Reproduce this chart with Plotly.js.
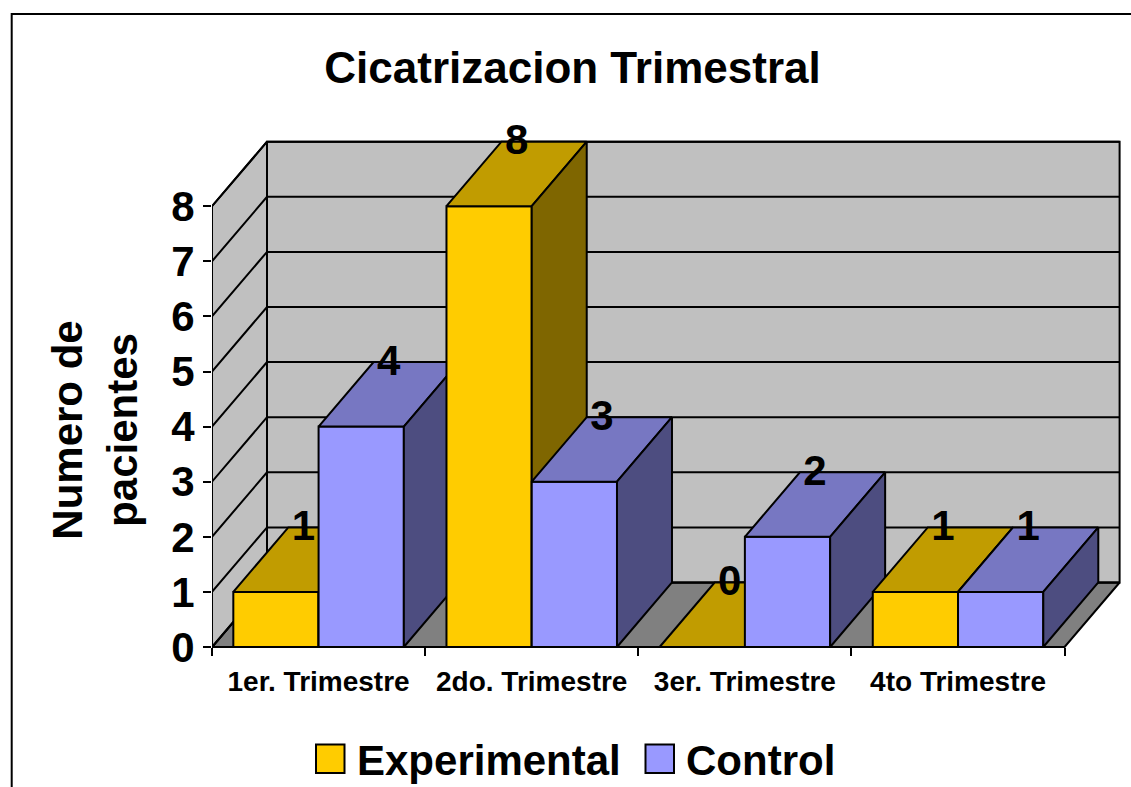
<!DOCTYPE html>
<html><head><meta charset="utf-8">
<script src="https://cdn.plot.ly/plotly-3.0.1.min.js"></script>
<style>html,body{margin:0;padding:0;background:#fff}#chart{width:1131px;height:787px}</style>
</head><body><div id="chart"></div>
<script>
// ---- data ----
const categories = ['1er. Trimestre', '2do. Trimestre', '3er. Trimestre', '4to Trimestre'];
const seriesNames = ['Experimental', 'Control'];
const experimental = [1, 8, 0, 1];
const control = [4, 3, 2, 1];
const yTicks = [0, 1, 2, 3, 4, 5, 6, 7, 8];
const chartTitle = 'Cicatrizacion Trimestral';
const yTitle = 'Numero de<br>pacientes';

// ---- style ----
const FONT = '"Liberation Sans", Arial, Helvetica, sans-serif';
const W = 1131, H = 787;
const M = {l: 212, r: 9, t: 130, b: 57};
const PX_X = 213.15, PX_Y = 55.1;           // pixels per data unit
const ZERO_PX = 647;                        // pixel row of value 0
const plotW = W - M.l - M.r, plotH = H - M.t - M.b;
const DX = 55 / PX_X, DY = 64.5 / PX_Y;     // oblique depth in data units
const seriesColors = [
  {front: '#FFCC00', top: '#C19C00', side: '#7F6600'},
  {front: '#9999FF', top: '#7777C2', side: '#4D4D80'}
];
const LW = 2;
const series = [experimental, control];
const nCat = categories.length;
const yMax = yTicks[yTicks.length - 1];

function poly(xs, ys, fill) {
  return {type: 'scatter', mode: 'lines', x: xs.concat([xs[0]]), y: ys.concat([ys[0]]),
    fill: 'toself', fillcolor: fill, line: {color: '#000', width: LW},
    hoverinfo: 'skip', showlegend: false};
}
const traces = [];
// floor
traces.push(poly([0, nCat, nCat + DX, DX], [0, 0, DY, DY], '#808080'));
// side wall
traces.push(poly([0, DX, DX, 0], [0, DY, yMax + DY, yMax], '#C0C0C0'));
// back wall
traces.push(poly([DX, nCat + DX, nCat + DX, DX], [DY, DY, yMax + DY, yMax + DY], '#C0C0C0'));
// gridlines
const gx = [], gy = [];
yTicks.forEach(k => { gx.push(0, DX, nCat + DX, null); gy.push(k, k + DY, k + DY, null); });
traces.push({type: 'scatter', mode: 'lines', x: gx, y: gy, line: {color: '#000', width: LW},
  hoverinfo: 'skip', showlegend: false, connectgaps: false});
// bars
const lx = [], ly = [], lt = [];
const barW = 0.4, gap = 0.1;
for (let i = 0; i < nCat; i++) {
  series.forEach((vals, s) => {
    const v = vals[i];
    const x0 = i + gap + s * barW, x1 = x0 + barW;
    const c = seriesColors[s];
    traces.push(poly([x0, x1, x1, x0], [0, 0, v, v], c.front));
    traces.push(poly([x0, x1, x1 + DX, x0 + DX], [v, v, v + DY, v + DY], c.top));
    traces.push(poly([x1, x1 + DX, x1 + DX, x1], [0, DY, v + DY, v], c.side));
    lx.push((x0 + x1) / 2 + DX / 2); ly.push(v + DY - 0.04); lt.push(String(v));
  });
}
traces.push({type: 'scatter', mode: 'text', x: lx, y: ly, text: lt, textposition: 'middle center',
  textfont: {family: FONT, size: 42, color: '#000', weight: 'bold'}, cliponaxis: false,
  hoverinfo: 'skip', showlegend: false});

const fx = px => (px - M.l) / plotW;
const fy = py => (H - M.b - py) / plotH;

// legend (manual, large squares)
const legendItems = [
  {sq: 316, txt: 355},
  {sq: 645.5, txt: 684}
];
const shapes = [], annotations = [];
legendItems.forEach((it, s) => {
  shapes.push({type: 'rect', xref: 'paper', yref: 'paper', x0: fx(it.sq), x1: fx(it.sq + 28.5),
    y0: fy(773), y1: fy(744.5), fillcolor: seriesColors[s].front, line: {color: '#000', width: LW}});
  annotations.push({xref: 'paper', yref: 'paper', x: fx(it.txt), y: fy(760), xanchor: 'left', yanchor: 'middle',
    text: seriesNames[s], showarrow: false, font: {family: FONT, size: 42, color: '#000', weight: 'bold'}});
});
// outer chart-area border (left and top edges)
shapes.push({type: 'path', xref: 'paper', yref: 'paper',
  path: `M ${fx(11.7)} ${fy(800)} L ${fx(11.7)} ${fy(14)} L ${fx(1140)} ${fy(14)}`,
  line: {color: '#000', width: LW}});

const boundaryTicks = [];
for (let i = 0; i <= nCat; i++) boundaryTicks.push(i);

const layout = {
  width: W, height: H,
  margin: {l: M.l, r: M.r, t: M.t, b: M.b, pad: 0},
  paper_bgcolor: '#fff', plot_bgcolor: 'rgba(0,0,0,0)',
  font: {family: FONT, color: '#000'},
  showlegend: false,
  title: {text: chartTitle, font: {family: FONT, size: 44, color: '#000', weight: 'bold'},
    x: 572.5 / W, xanchor: 'center', xref: 'container', y: 1 - 67.5 / H, yanchor: 'middle', yref: 'container'},
  xaxis: {range: [0, plotW / PX_X], tickmode: 'array', tickvals: categories.map((c, i) => i + 0.5),
    ticktext: categories, ticks: 'outside', ticklen: 9, tickwidth: LW, tickcolor: 'rgba(0,0,0,0)',
    minor: {tickmode: 'array', tickvals: boundaryTicks, ticks: 'outside', ticklen: 8, tickwidth: LW, tickcolor: '#000', showgrid: false},
    showgrid: false, zeroline: false, showline: false, anchor: 'free', position: fy(ZERO_PX),
    tickfont: {family: FONT, size: 28, color: '#000', weight: 'bold'}, fixedrange: true, automargin: false},
  yaxis: {range: [-(H - M.b - ZERO_PX) / PX_Y, (ZERO_PX - M.t) / PX_Y], tickmode: 'array', tickvals: yTicks,
    ticks: 'outside', ticklen: 8, tickwidth: LW, tickcolor: '#000',
    showgrid: false, zeroline: false, showline: false,
    tickfont: {family: FONT, size: 42, color: '#000', weight: 'bold'}, fixedrange: true, automargin: false,
    title: {text: yTitle, font: {family: FONT, size: 42, color: '#000', weight: 'bold'}, standoff: 20}},
  shapes: shapes, annotations: annotations
};
Plotly.newPlot('chart', traces, layout, {displayModeBar: false, staticPlot: true});
</script></body></html>
